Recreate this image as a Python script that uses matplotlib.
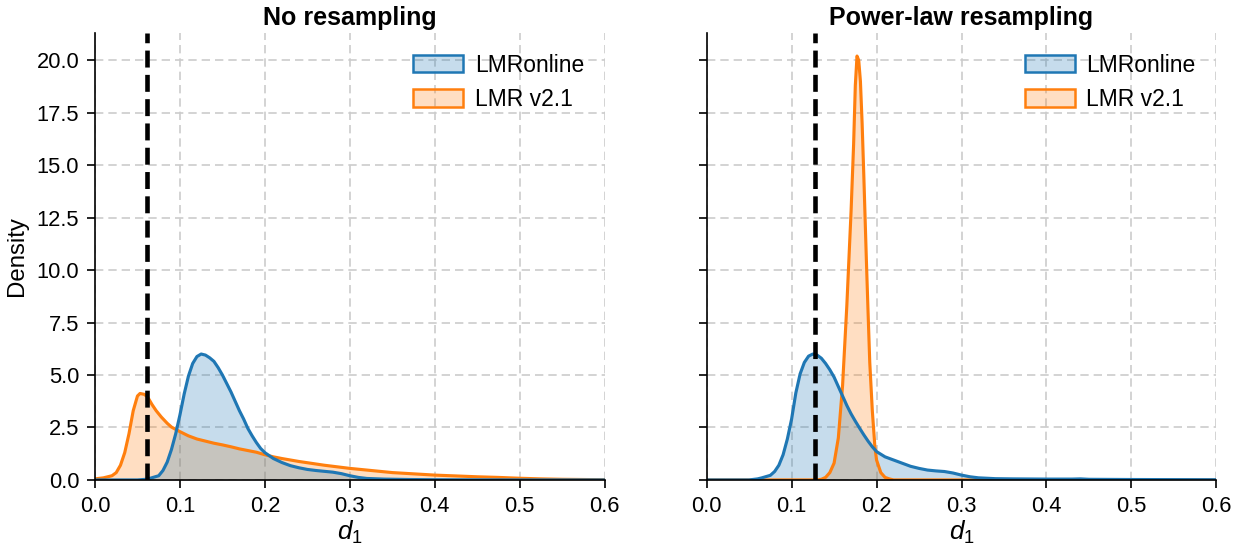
import matplotlib
matplotlib.use("Agg")
import matplotlib.pyplot as plt
from matplotlib.patches import Patch

plt.rcParams["font.family"] = ["Liberation Sans", "DejaVu Sans"]
plt.rcParams["mathtext.fontset"] = "custom"
plt.rcParams["mathtext.it"] = "Liberation Sans:italic"
plt.rcParams["mathtext.rm"] = "Liberation Sans"

# density curves (x = d_1, y = density)
x_left_online = [0.0, 0.05, 0.06, 0.065, 0.075, 0.08, 0.085, 0.09, 0.095, 0.1, 0.105, 0.11,
                 0.115, 0.12, 0.125, 0.13, 0.135, 0.14, 0.145, 0.15, 0.155, 0.16, 0.165,
                 0.17, 0.175, 0.18, 0.185, 0.19, 0.195, 0.2, 0.21, 0.22, 0.23, 0.24, 0.25,
                 0.26, 0.27, 0.28, 0.29, 0.3, 0.31, 0.32, 0.34, 0.37, 0.4, 0.45, 0.5, 0.6]
y_left_online = [0.0, 0.0, 0.03, 0.08, 0.2, 0.45, 0.85, 1.45, 2.2, 3.1, 4.1, 4.95,
                 5.55, 5.88, 6.0, 5.95, 5.82, 5.65, 5.35, 5.0, 4.6, 4.2, 3.75,
                 3.3, 2.9, 2.45, 2.1, 1.78, 1.5, 1.3, 1.02, 0.83, 0.68, 0.58, 0.5,
                 0.45, 0.41, 0.37, 0.3, 0.2, 0.12, 0.07, 0.04, 0.02, 0.01, 0.005, 0.0, 0.0]

x_left_v21 = [0.0, 0.01, 0.02, 0.025, 0.03, 0.035, 0.04, 0.045, 0.05, 0.053, 0.058, 0.062,
              0.067, 0.072, 0.078, 0.085, 0.09, 0.1, 0.11, 0.12, 0.13, 0.14, 0.15, 0.16,
              0.17, 0.18, 0.19, 0.2, 0.21, 0.22, 0.23, 0.24, 0.25, 0.27, 0.3, 0.325, 0.35,
              0.375, 0.4, 0.425, 0.45, 0.475, 0.5, 0.525, 0.55, 0.575, 0.6]
y_left_v21 = [0.05, 0.1, 0.2, 0.35, 0.7, 1.3, 2.2, 3.3, 4.0, 4.12, 4.08, 3.95,
              3.6, 3.3, 3.0, 2.7, 2.52, 2.3, 2.1, 1.95, 1.85, 1.75, 1.67, 1.58,
              1.48, 1.4, 1.32, 1.2, 1.1, 1.02, 0.95, 0.88, 0.82, 0.7, 0.55, 0.45, 0.35,
              0.29, 0.23, 0.19, 0.15, 0.12, 0.08, 0.05, 0.03, 0.02, 0.01]

x_right_online = [0.0, 0.05, 0.06, 0.065, 0.075, 0.08, 0.085, 0.09, 0.095, 0.1, 0.105, 0.11,
                  0.115, 0.12, 0.125, 0.13, 0.135, 0.14, 0.145, 0.15, 0.155, 0.16, 0.165,
                  0.17, 0.175, 0.18, 0.185, 0.19, 0.195, 0.2, 0.21, 0.22, 0.23, 0.24, 0.25,
                  0.26, 0.27, 0.28, 0.29, 0.3, 0.31, 0.32, 0.34, 0.36, 0.4, 0.43, 0.44,
                  0.45, 0.5, 0.6]
y_right_online = [0.0, 0.0, 0.05, 0.1, 0.22, 0.4, 0.7, 1.2, 1.95, 2.9, 4.15, 5.05,
                  5.6, 5.9, 6.0, 5.95, 5.8, 5.55, 5.25, 4.9, 4.45, 4.0, 3.55,
                  3.15, 2.8, 2.47, 2.15, 1.85, 1.58, 1.35, 1.1, 0.95, 0.8, 0.65, 0.55,
                  0.47, 0.43, 0.4, 0.33, 0.23, 0.15, 0.1, 0.06, 0.05, 0.04, 0.04, 0.05,
                  0.03, 0.02, 0.01]

x_right_v21 = [0.0, 0.13, 0.135, 0.14, 0.145, 0.15, 0.155, 0.16, 0.165, 0.17, 0.173, 0.175,
               0.177, 0.179, 0.181, 0.183, 0.185, 0.188, 0.19, 0.192, 0.195, 0.198, 0.2,
               0.205, 0.21, 0.215, 0.22, 0.6]
y_right_v21 = [0.0, 0.0, 0.03, 0.12, 0.35, 0.8, 2.0, 4.5, 8.3, 12.8, 16.0, 18.8,
               20.2, 20.0, 19.0, 17.0, 14.5, 10.5, 8.0, 5.6, 3.3, 1.6, 0.95,
               0.35, 0.12, 0.05, 0.0, 0.0]

# reference d_1 values (dashed lines)
ref_left = 0.0608
ref_right = 0.127

titles = ["No resampling", "Power-law resampling"]
labels = ["LMRonline", "LMR v2.1"]
blue = "#1f77b4"
orange = "#ff7f0e"

fig, axes = plt.subplots(1, 2, figsize=(8.3, 3.64), dpi=150, sharey=True)
fig.subplots_adjust(left=0.0763, right=0.977, bottom=0.121, top=0.9396, wspace=0.2)

panels = [
    (x_left_online, y_left_online, x_left_v21, y_left_v21, ref_left),
    (x_right_online, y_right_online, x_right_v21, y_right_v21, ref_right),
]

for ax, (xa, ya, xb, yb, ref), title in zip(axes, panels, titles):
    # orange underneath, blue on top (gives the grey overlap)
    ax.fill_between(xb, yb, color=orange, alpha=0.25, lw=0)
    ax.plot(xb, yb, color=orange, lw=1.5)
    ax.fill_between(xa, ya, color=blue, alpha=0.25, lw=0)
    ax.plot(xa, ya, color=blue, lw=1.5)
    ax.axvline(ref, color="black", ls="--", lw=2.2, zorder=5)

    ax.set_xlim(0, 0.6)
    ax.set_ylim(0, 21.3)
    ax.set_xticks([0.0, 0.1, 0.2, 0.3, 0.4, 0.5, 0.6])
    ax.set_yticks([0, 2.5, 5, 7.5, 10, 12.5, 15, 17.5, 20])
    ax.grid(True, ls="--", color="#cccccc", lw=0.8, dashes=(5, 3))
    ax.set_axisbelow(True)
    for side in ["top", "right"]:
        ax.spines[side].set_visible(False)
    ax.tick_params(labelsize=10.5, length=4)
    ax.set_xlabel("$d_1$", fontsize=12.5, labelpad=1)
    ax.set_title(title, fontsize=12, fontweight="bold", pad=4)

    handles = [Patch(facecolor=(0.122, 0.467, 0.706, 0.25), edgecolor=blue, lw=1.2),
               Patch(facecolor=(1.0, 0.498, 0.055, 0.25), edgecolor=orange, lw=1.2)]
    ax.legend(handles, labels, loc="upper right", frameon=False, fontsize=11,
              handlelength=2.2, handleheight=0.8, handletextpad=0.5)

axes[0].set_ylabel("Density", fontsize=11.5)

fig.savefig("out.png", dpi=150)
